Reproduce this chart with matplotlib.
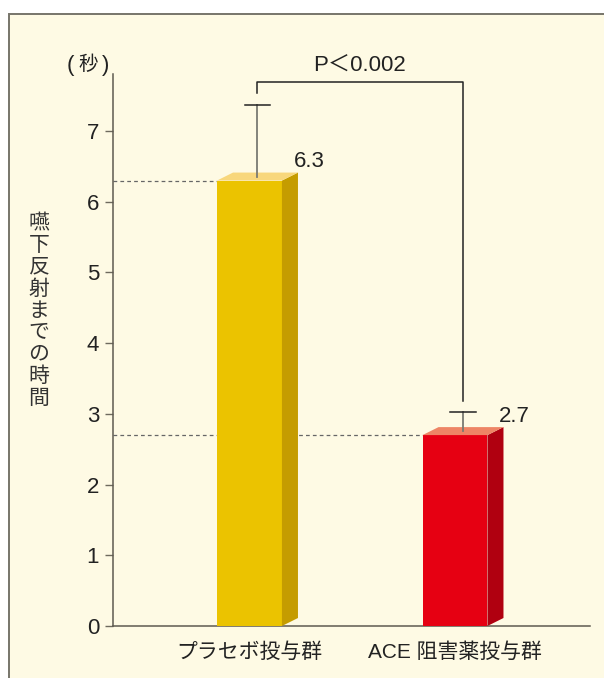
import matplotlib.pyplot as plt
from matplotlib.patches import Rectangle

plt.rcParams['font.family'] = ['Liberation Sans', 'Noto Sans CJK JP', 'DejaVu Sans']

groups = ['プラセボ投与群', 'ACE 阻害薬投与群']
values = [6.3, 2.7]
errors = [1.07, 0.33]
front_colors = ['#ebc300', '#e60012']
side_colors = ['#c59c00', '#b00010']
top_colors = ['#f8d77c', '#ee8565']
yticks = [0, 1, 2, 3, 4, 5, 6, 7]
ylabel = '嚥下反射までの時間'
unit = '秒'
p_text = 'P＜0.002'

W, H = 604, 678
bg = '#fefae4'
ink = '#222222'

fig = plt.figure(figsize=(W / 100, H / 100), dpi=100)
fig.patch.set_facecolor('white')

# cream panel with a grey frame on top and left
fig.patches.append(Rectangle((9 / W, -0.1), 1.2, (H - 14) / H + 0.1,
                             transform=fig.transFigure, facecolor=bg,
                             edgecolor='#77756a', linewidth=1.4, zorder=-5))

ax = fig.add_axes([113 / W, 52 / H, (590 - 113) / W, (626 - 74) / H])
ax.set_facecolor('none')
ax.set_zorder(2)
ax.set_xlim(-0.664, 1.657)
ax.set_ylim(0, 7.807)

width = 0.316
depth = 0.078
skew = 0.113

for i, v in enumerate(values):
    x0 = i - width / 2
    x1 = i + width / 2
    ax.bar(i, v, width=width, color=front_colors[i], zorder=3)
    ax.fill([x1, x1 + depth, x1 + depth, x1],
            [0, skew, v + skew, v], color=side_colors[i], lw=0, zorder=3)
    ax.fill([x0, x1, x1 + depth, x0 + depth],
            [v, v, v + skew, v + skew], color=top_colors[i], lw=0, zorder=3)
    # dashed reference line from axis to bar
    ax.plot([-0.664, x0], [v, v], ls=(0, (3, 2.5)), color='#666666',
            lw=0.9, zorder=2, clip_on=False)
    # upper error bar
    cx = i + depth / 2
    ax.plot([cx, cx], [v + skew / 2, v + errors[i]], color='#7a7a72',
            lw=1.3, zorder=4)
    ax.plot([cx - 0.063, cx + 0.063], [v + errors[i]] * 2, color=ink,
            lw=1.1, zorder=4)
    ax.text(x1 + depth - 0.022, v + 0.19, f'{v}', fontsize=16, color=ink,
            ha='left', va='baseline', zorder=5)

# significance bracket
bx = [0 + depth / 2, 1 + depth / 2]
ax.plot([bx[0], bx[0], bx[1], bx[1]], [7.54, 7.69, 7.69, 3.18],
        color=ink, lw=1.1, clip_on=False)
ax.text(sum(bx) / 2 - 0.005, 7.84, p_text, fontsize=16, color=ink,
        ha='center', va='baseline')

ax.set_xticks([0, 1])
ax.set_xticklabels(groups, fontsize=15, color=ink)
ax.set_yticks(yticks)
ax.set_yticklabels([str(t) for t in yticks], fontsize=16, color=ink)
ax.tick_params(axis='x', length=0, pad=12)
ax.tick_params(axis='y', length=6, width=1, color='#6e6a5e', pad=4)
for s in ['top', 'right']:
    ax.spines[s].set_visible(False)
for s in ['left', 'bottom']:
    ax.spines[s].set_color('#5e5a50')
    ax.spines[s].set_linewidth(1.1)
ax.spines['bottom'].set_bounds(-0.664, 1.657)

# unit label with wide-set brackets
uy = 1 - 65 / H
fig.text(70 / W, uy, '(', fontsize=16, color=ink, ha='center', va='center')
fig.text(88 / W, uy, unit, fontsize=14, color=ink, ha='center', va='center')
fig.text(106 / W, uy, ')', fontsize=16, color=ink, ha='center', va='center')

fig.text(39 / W, 1 - 311 / H, '\n'.join(ylabel), fontsize=15, color='#333333',
         ha='center', va='center', linespacing=1.18)

fig.savefig('out.png', dpi=100, facecolor=fig.get_facecolor())
